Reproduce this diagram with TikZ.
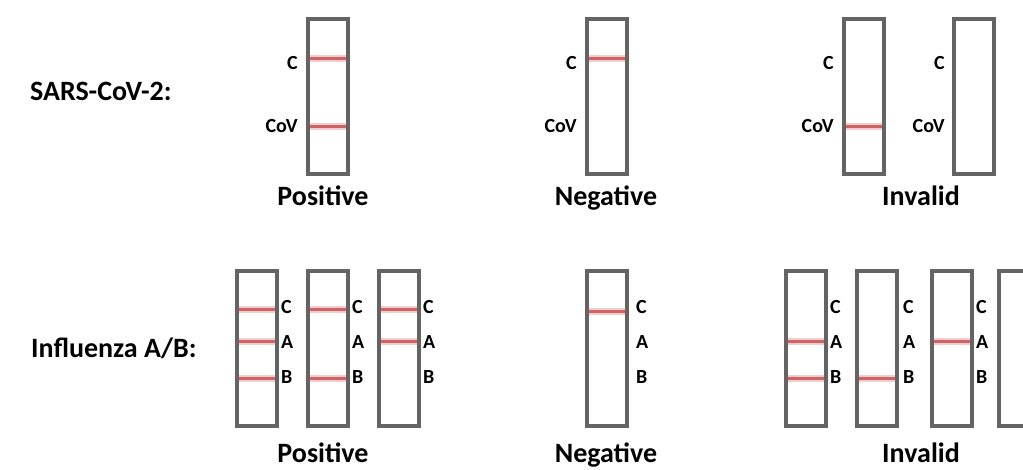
\documentclass[tikz,border=0pt]{standalone}
\usepackage{fontspec}
\setmainfont{Carlito}
\usepackage{tikz}
\definecolor{bandred}{RGB}{208,100,100}
\definecolor{bandpink}{RGB}{242,205,205}
\definecolor{stripgray}{RGB}{100,100,100}
\tikzset{
  strip/.style={draw=stripgray, line width=4pt, fill=white},
  halo/.style={draw=bandpink, line width=7pt},
  band/.style={draw=bandred, line width=3pt},
  tag/.style={font=\fontsize{20}{22}\selectfont\bfseries, inner sep=0pt},
  heading/.style={font=\fontsize{28}{30}\selectfont\bfseries, inner sep=0pt},
}
% one test cassette window: left edge, top edge
\newcommand{\kit}[2]{\draw[strip] (#1+2,#2+2) rectangle (#1+42,#2+157);}
% one coloured line across a window: left edge, height
\newcommand{\testline}[2]{\draw[halo] (#1+4,#2) -- (#1+40,#2);
  \draw[band] (#1+4,#2) -- (#1+40,#2);}

\begin{document}
\begin{tikzpicture}[x=1pt, y=-1pt]
      \useasboundingbox (0,0) rectangle (1023,470);
      % SARS-CoV-2 row
      \node[heading, anchor=west] (sars) at (30,91) {SARS-CoV-2:};
      \kit{306}{17} \testline{306}{59} \testline{306}{127}
      \kit{585}{17} \testline{585}{59}
      \kit{842}{17} \testline{842}{127}
      \kit{952}{17}
      \node[tag, anchor=east] (c1) at (298,63) {C};
      \node[tag, anchor=east] (v1) at (298,126) {CoV};
      \node[tag, anchor=east] (c2) at (577,63) {C};
      \node[tag, anchor=east] (v2) at (577,126) {CoV};
      \node[tag, anchor=east] (c3) at (834,63) {C};
      \node[tag, anchor=east] (v3) at (834,126) {CoV};
      \node[tag, anchor=east] (c4) at (945,63) {C};
      \node[tag, anchor=east] (v4) at (945,126) {CoV};
      \node[heading, anchor=base] (posA) at (323,206) {Positive};
      \node[heading, anchor=base] (negA) at (606,206) {Negative};
      \node[heading, anchor=base] (invA) at (921,206) {Invalid};
      % influenza row
      \node[heading, anchor=west] (flu) at (31,348) {Influenza A/B:};
      \kit{235}{269} \testline{235}{310} \testline{235}{342} \testline{235}{378}
      \kit{306}{269} \testline{306}{310} \testline{306}{378}
      \kit{377}{269} \testline{377}{310} \testline{377}{342}
      \kit{585}{269} \testline{585}{312}
      \kit{784}{269} \testline{784}{342} \testline{784}{378}
      \kit{855}{269} \testline{855}{378}
      \kit{930}{269} \testline{930}{342}
      \kit{997}{269}
      \foreach \x/\n in {281/p1, 352/p2, 423/p3, 636/n1, 830/i1, 903/i2, 976/i3} {
        \node[tag, anchor=west] (c\n) at (\x,307) {C};
        \node[tag, anchor=west] (a\n) at (\x,342) {A};
        \node[tag, anchor=west] (b\n) at (\x,377) {B};
      }
      \node[heading, anchor=base] (posB) at (323,462) {Positive};
      \node[heading, anchor=base] (negB) at (606,462) {Negative};
      \node[heading, anchor=base] (invB) at (921,462) {Invalid};
    \end{tikzpicture}
\end{document}
